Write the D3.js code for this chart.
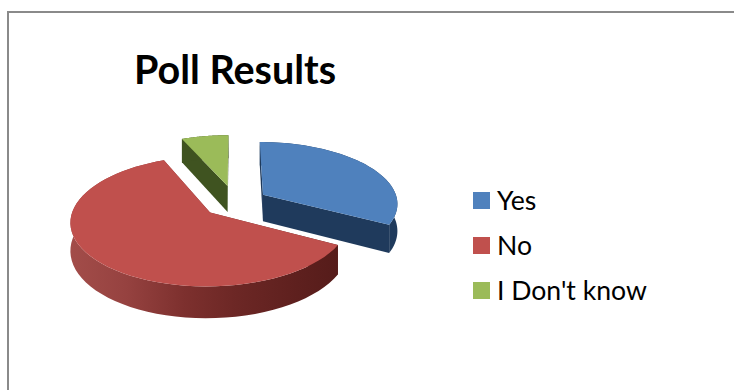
<!DOCTYPE html>
<html>
<head>
<meta charset="utf-8">
<script src="https://cdnjs.cloudflare.com/ajax/libs/d3/7.8.5/d3.min.js"></script>
<style>
html,body{margin:0;padding:0;background:#fff}
svg{display:block}
text{font-family:Lato,"Open Sans",sans-serif;fill:#000}
</style>
</head>
<body>
<svg id="chart" width="734" height="390"></svg>
<script>
const categories = ["Yes", "No", "I Don't know"];
const pollValues = [32.9, 60.6, 6.5];
const topColors = ["#4f81bd", "#c0504d", "#9bbb59"];
const sideColors = ["#1f3a5c", "#7a2f2d", "#3f5320"];
const chartTitle = "Poll Results";

const svg = d3.select("#chart");

// Frame around the chart area
svg.append("path")
  .attr("d", "M8,390V12H734")
  .attr("fill", "none").attr("stroke", "#8a8a8a").attr("stroke-width", 2);

svg.append("text").attr("x", 235).attr("y", 84)
  .attr("text-anchor", "middle")
  .attr("font-size", 39.5).attr("font-weight", 700)
  .text(chartTitle);

// Perspective view of a flat pie. u runs to the right, v runs away from the
// viewer, both in units of the pie radius.
const cx = 235, cy = 202.2, rx = 135, ry = 61.3, persp = 0.13, depth = 27;
const explode = [0.245, 0.245, 0.28];
const scaleAt = v => 1 / (1 + persp * v);
const toScreen = (u, v) => {
  const p = scaleAt(v);
  return [cx + rx * u * p, cy - ry * v * p];
};
const lowered = (u, v) => {
  const [x, y] = toScreen(u, v);
  return [x, y + depth * scaleAt(v)];
};

const arcs = d3.pie().sort(null).value(d => d)(pollValues);
const line = d3.line();

const defs = svg.append("defs");
const sideFill = defs.append("linearGradient").attr("id", "redSide")
  .attr("gradientUnits", "userSpaceOnUse").attr("x1", 73).attr("x2", 337).attr("y1", 0).attr("y2", 0);
sideFill.selectAll("stop")
  .data([[0, "#a24c49"], [0.2, "#964240"], [0.42, "#7d302e"], [0.62, "#6c2725"], [0.85, "#5e201e"], [1, "#561c1a"]])
  .join("stop").attr("offset", d => d[0]).attr("stop-color", d => d[1]);

const arcAngles = (a0, a1) => d3.range(0, 61).map(i => a0 + (a1 - a0) * i / 60);

// Draw back to front so the near slice overlaps the others
[2, 0, 1].forEach(i => {
  const a = arcs[i];
  const mid = (a.startAngle + a.endAngle) / 2;
  const u0 = explode[i] * Math.sin(mid), v0 = explode[i] * Math.cos(mid);
  const point = t => [u0 + Math.sin(t), v0 + Math.cos(t)];
  const g = svg.append("g");
  const side = i === 1 ? "url(#redSide)" : sideColors[i];
  const rimUV = arcAngles(a.startAngle, a.endAngle).map(point);

  // Cut faces running from the apex to the rim
  [a.startAngle, a.endAngle].forEach(t => {
    const [u, v] = point(t);
    g.append("path")
      .attr("d", line([toScreen(u0, v0), toScreen(u, v), lowered(u, v), lowered(u0, v0)]) + "Z")
      .attr("fill", side);
  });

  // Outer wall below the rim
  const wall = rimUV.map(d => toScreen(...d))
    .concat(rimUV.slice().reverse().map(d => lowered(...d)));
  g.append("path").attr("d", line(wall) + "Z").attr("fill", side);

  // Top face
  const top = [toScreen(u0, v0)].concat(rimUV.map(d => toScreen(...d)));
  g.append("path").attr("d", line(top) + "Z").attr("fill", topColors[i]);
});

// Legend
const legendY = d3.scalePoint().domain(categories).range([200.5, 290.5]);
const legend = svg.append("g").selectAll("g").data(categories).join("g")
  .attr("transform", d => `translate(473,${legendY(d)})`);
legend.append("rect").attr("x", 0).attr("y", -8.5).attr("width", 17).attr("height", 17)
  .attr("fill", (d, i) => topColors[i]);
legend.append("text").attr("x", 24).attr("y", 9).attr("font-size", 26.6).text(d => d);
</script>
</body>
</html>
